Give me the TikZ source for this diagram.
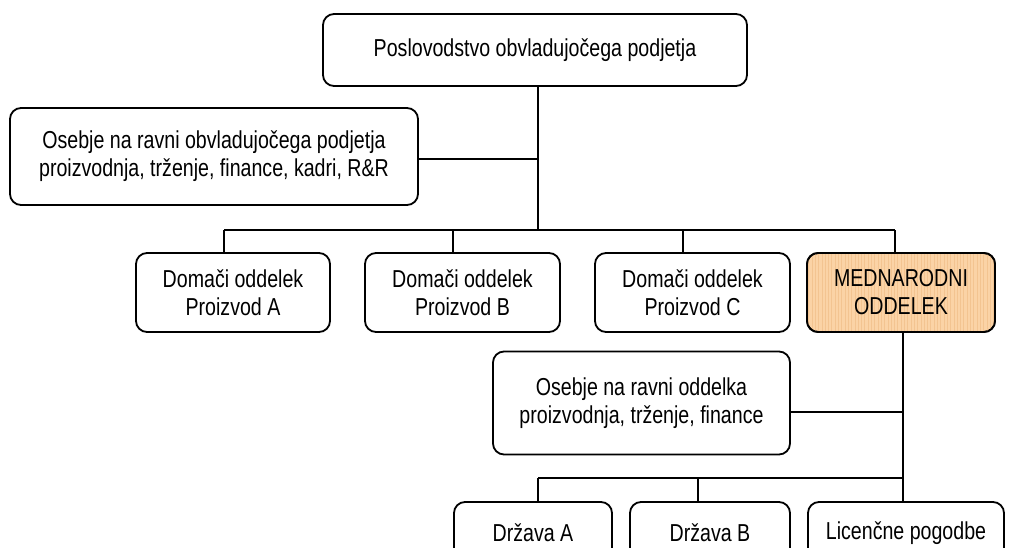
\documentclass[tikz,border=0pt]{standalone}
\usepackage{fontspec}
\setmainfont{Liberation Sans}[FakeStretch=0.8]
\usetikzlibrary{calc}
\definecolor{intlfill}{HTML}{FBD3A6}
\definecolor{intlgrid}{HTML}{F3C491}
\begin{document}
\begin{tikzpicture}[x=1pt,y=-1pt,
  unit/.style={draw=black, line width=1.8pt, rounded corners=11pt, fill=white,
    inner sep=0pt, align=center, font=\fontsize{24.5}{28}\selectfont},
  link/.style={draw=black, line width=1.8pt}]
  \useasboundingbox (0,0) rectangle (1011,548);
  \clip (0,0) rectangle (1011,548);

  % head office and its staff
  \node[unit, minimum width=424pt, minimum height=72pt] (top) at (535,50)
    {Poslovodstvo obvladujočega podjetja};
  \node[unit, minimum width=408pt, minimum height=97pt] (staff1) at (214,156.5)
    {Osebje na ravni obvladujočega podjetja\\proizvodnja, trženje, finance, kadri, R\&R};

  % divisions
  \node[unit, minimum width=194pt, minimum height=79pt] (d1) at (233,292.5)
    {Domači oddelek\\Proizvod A};
  \node[unit, minimum width=195pt, minimum height=79pt] (d2) at (462.5,292.5)
    {Domači oddelek\\Proizvod B};
  \node[unit, minimum width=195pt, minimum height=79pt] (d3) at (692.5,292.5)
    {Domači oddelek\\Proizvod C};
  \node[unit, fill=intlfill, minimum width=188pt, minimum height=79pt] (intl) at (901,292.5) {};
  \begin{scope}
    \clip[rounded corners=11pt] (807,253) rectangle (995,332);
    \draw[intlgrid, line width=0.4pt, step=3.3] (805,250) grid (997,335);
  \end{scope}
  \node[unit, fill=none, minimum width=188pt, minimum height=79pt] (intlb) at (901,292.5)
    {MEDNARODNI\\ODDELEK};

  % international division staff and units
  \node[unit, minimum width=297pt, minimum height=103pt] (staff2) at (641.5,403)
    {Osebje na ravni oddelka\\proizvodnja, trženje, finance};
  \node[unit, minimum width=158pt, minimum height=62pt] (sA) at (533,533) {Država A};
  \node[unit, minimum width=160pt, minimum height=62pt] (sB) at (710,533) {Država B};
  \node[unit, minimum width=196pt, minimum height=62pt] (lic) at (906,533) {Licenčne pogodbe};

  % junctions
  \coordinate (trunk) at (538,230);
  \coordinate (j1) at (224,230);
  \coordinate (j2) at (453,230);
  \coordinate (j3) at (683,230);
  \coordinate (j4) at (895,230);
  \coordinate (spine) at (903,478);
  \coordinate (k1) at (538,478);
  \coordinate (k2) at (698,478);

  % upper tree
  \draw[link] (top.south -| trunk) -- (trunk);
  \draw[link] (staff1.east |- 0,159) -- (trunk |- 0,159);
  \draw[link] (j1) -- (j4);
  \draw[link] (j1) -- (d1.north -| j1);
  \draw[link] (j2) -- (d2.north -| j2);
  \draw[link] (j3) -- (d3.north -| j3);
  \draw[link] (j4) -- (intl.north -| j4);

  % lower tree
  \draw[link] (intl.south -| spine) -- (lic.north -| spine);
  \draw[link] (staff2.east |- 0,412) -- (spine |- 0,412);
  \draw[link] (k1) -- (spine);
  \draw[link] (k1) -- (sA.north -| k1);
  \draw[link] (k2) -- (sB.north -| k2);
\end{tikzpicture}
\end{document}
